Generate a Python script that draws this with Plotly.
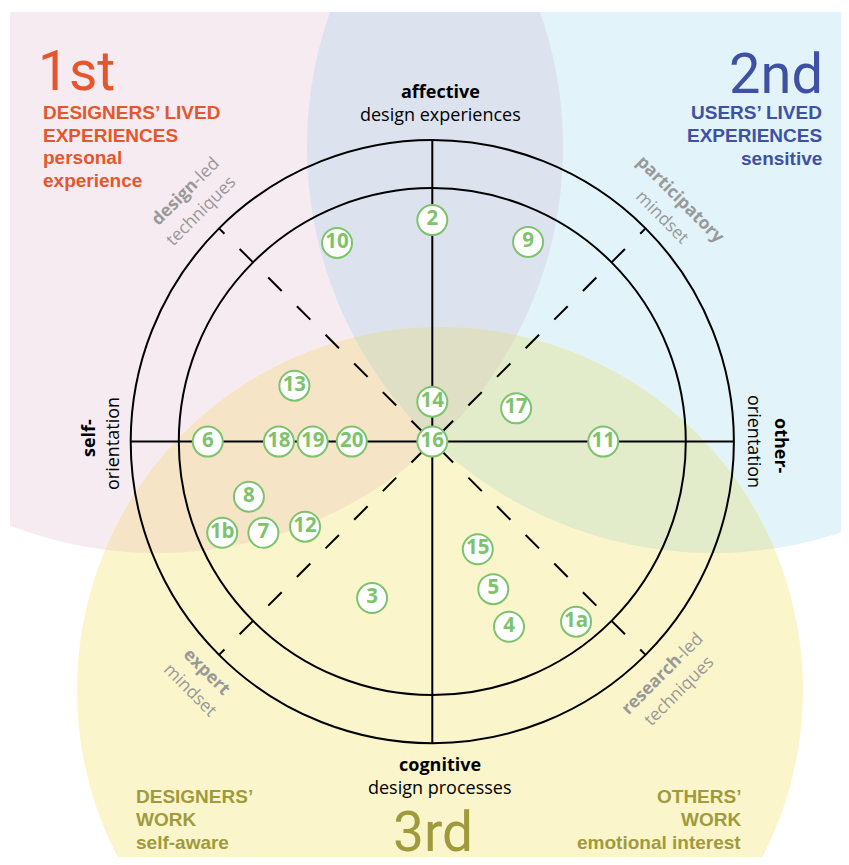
import numpy as np
import plotly.graph_objects as go

# ---------------- data ----------------
node_labels = ["1a", "1b", "2", "3", "4", "5", "6", "7", "8", "9", "10",
               "11", "12", "13", "14", "15", "16", "17", "18", "19", "20"]
# x: self-orientation (-) .. other-orientation (+); y: cognitive (-) .. affective (+)
node_x = [56.6, -82.7, 0.0, -23.7, 30.2, 24.0, -88.4, -66.5, -72.2, 37.7, -37.5,
          67.3, -50.1, -54.3, 0.0, 17.9, 0.0, 33.0, -60.4, -47.1, -31.7]
node_y = [-70.9, -35.9, 87.2, -61.6, -72.9, -58.1, 0.0, -35.9, -21.7, 78.6, 78.2,
          0.0, -33.5, 22.0, 15.7, -42.4, 0.0, 13.1, 0.0, 0.0, 0.0]

# ---------------- geometry helpers ----------------
S = 2.54            # px per unit
CX, CY = 432.3, 441.6   # page pixel position of the origin
OFF = 8             # body margin of the html page
FW, FH = 849 - 2 * OFF, 865 - 2 * OFF


def D(px, py):
    return (px - CX) / S, (CY - py) / S


R_OUT = 301.6 / S
R_IN = 253.5 / S

GREEN = "#7DC36B"
ORANGE = "#E4572C"
BLUE_T = "#3F51A3"
OLIVE = "#9F9B3D"
GRAY = "#999999"


def circle_poly(cx, cy, r, n=480):
    t = np.linspace(0, 2 * np.pi, n, endpoint=False)
    return list(zip(cx + r * np.cos(t), cy + r * np.sin(t)))


def inside(p, a, b):
    return (b[0] - a[0]) * (p[1] - a[1]) - (b[1] - a[1]) * (p[0] - a[0]) >= 0


def inter(s, e, a, b):
    x1, y1 = s; x2, y2 = e; x3, y3 = a; x4, y4 = b
    den = (x1 - x2) * (y3 - y4) - (y1 - y2) * (x3 - x4)
    t = ((x1 - x3) * (y3 - y4) - (y1 - y3) * (x3 - x4)) / den
    return (x1 + t * (x2 - x1), y1 + t * (y2 - y1))


def clip(subject, clipper):
    out = list(subject)
    for i in range(len(clipper)):
        a, b = clipper[i - 1], clipper[i]
        inp, out = out, []
        if not inp:
            break
        s = inp[-1]
        for e in inp:
            if inside(e, a, b):
                if not inside(s, a, b):
                    out.append(inter(s, e, a, b))
                out.append(e)
            elif inside(s, a, b):
                out.append(inter(s, e, a, b))
            s = e
    return out


def path(poly):
    return "M " + " L ".join(f"{x:.3f},{y:.3f}" for x, y in poly) + " Z"


# background circles (px centre, px radius)
pink_c = circle_poly(*D(157, 147), 406 / S)
blue_c = circle_poly(*D(713, 147), 406 / S)
yell_c = circle_poly(*D(440, 690), 363 / S)
x0b, y1b = D(10, 12)
box = [(x0b, -300), (300, -300), (300, y1b), (x0b, y1b)]

P = clip(pink_c, box)
B = clip(blue_c, box)
Y = clip(yell_c, box)
PB = clip(P, blue_c)
PY = clip(P, yell_c)
BY = clip(B, yell_c)
PBY = clip(PB, yell_c)

regions = [(P, "#F7EBF2"), (B, "#E2F3F9"), (Y, "#FBF5CC"),
           (PB, "#DCE3EE"), (PY, "#F5E5C6"), (BY, "#E3ECCA"), (PBY, "#DEDFC4")]

fig = go.Figure()
shapes = []
for poly, col in regions:
    shapes.append(dict(type="path", path=path(poly), xref="x", yref="y",
                       fillcolor=col, line=dict(width=0), layer="below"))

for r in (R_OUT, R_IN):
    shapes.append(dict(type="circle", xref="x", yref="y", x0=-r, y0=-r, x1=r, y1=r,
                       line=dict(color="black", width=2), layer="below"))

shapes.append(dict(type="line", xref="x", yref="y", x0=-R_OUT, y0=0, x1=R_OUT, y1=0,
                   line=dict(color="black", width=2), layer="below"))
shapes.append(dict(type="line", xref="x", yref="y", x0=0, y0=-R_OUT, x1=0, y1=R_OUT,
                   line=dict(color="black", width=2), layer="below"))
for ang in (45, 135, 225, 315):
    a = np.deg2rad(ang)
    r0 = 10.5 / S
    shapes.append(dict(type="line", xref="x", yref="y",
                       x0=r0 * np.cos(a), y0=r0 * np.sin(a),
                       x1=R_OUT * np.cos(a), y1=R_OUT * np.sin(a),
                       line=dict(color="black", width=2, dash="19px,21.5px"),
                       layer="below"))

fig.add_trace(go.Scatter(
    x=node_x, y=node_y, mode="markers+text",
    text=[f"<b>{t}</b>" for t in node_labels],
    textposition="middle center",
    marker=dict(size=30, color="white", line=dict(color=GREEN, width=2)),
    textfont=dict(family="Open Sans", size=20.5, color=GREEN),
    hoverinfo="skip", cliponaxis=False, showlegend=False))

K = {"Liberation Sans": 0.347, "Open Sans": 0.388, "Roboto": 0.342}
anns = []


def ann(text, px, py, size, color, family, angle=0, xa="center", baseline=True):
    if baseline:
        py = py - K[family] * size
    x, y = D(px, py)
    anns.append(dict(x=x, y=y, xref="x", yref="y", text=text, showarrow=False,
                     textangle=angle, xanchor=xa, yanchor="middle",
                     font=dict(size=size, color=color, family=family)))


AR = "Liberation Sans"
OS = "Open Sans"
# 1st
ann("1st", 36, 90, 55, ORANGE, "Roboto", xa="left")
ann("<b>DESIGNERS’ LIVED</b>", 41, 119, 19, ORANGE, AR, xa="left")
ann("<b>EXPERIENCES</b>", 41, 141.7, 19, ORANGE, AR, xa="left")
ann("<b>personal</b>", 41, 164, 19, ORANGE, AR, xa="left")
ann("<b>experience</b>", 41, 187.3, 19, ORANGE, AR, xa="left")
# 2nd
ann("2nd", 825, 93, 56, BLUE_T, "Roboto", xa="right")
ann("<b>USERS’ LIVED</b>", 824, 119, 19, BLUE_T, AR, xa="right")
ann("<b>EXPERIENCES</b>", 824, 141.7, 19, BLUE_T, AR, xa="right")
ann("<b>sensitive</b>", 824, 165.5, 19, BLUE_T, AR, xa="right")
# 3rd
ann("<b>DESIGNERS’</b>", 134, 802.7, 19, OLIVE, AR, xa="left")
ann("<b>WORK</b>", 134, 826, 19, OLIVE, AR, xa="left")
ann("<b>self-aware</b>", 134, 849.3, 19, OLIVE, AR, xa="left")
ann("<b>OTHERS’</b>", 743, 802.7, 19, OLIVE, AR, xa="right")
ann("<b>WORK</b>", 743, 826, 19, OLIVE, AR, xa="right")
ann("<b>emotional interest</b>", 743, 849.3, 19, OLIVE, AR, xa="right")
ann("3rd", 433, 851, 55, OLIVE, "Roboto")
# axis labels
ann("<b>affective</b>", 440, 98, 18, "black", OS)
ann("design experiences", 440, 121, 18, "black", OS)
ann("<b>cognitive</b>", 440, 771, 18, "black", OS)
ann("design processes", 440, 794, 18, "black", OS)
ann("<b>self-</b>", 88, 438, 18, "black", OS, angle=-90, baseline=False)
ann("orientation", 112, 444, 18, "black", OS, angle=-90, baseline=False)
ann("<b>other-</b>", 782, 446, 18, "black", OS, angle=90, baseline=False)
ann("orientation", 755, 441, 18, "black", OS, angle=90, baseline=False)
# diagonal labels
ann("<b>design</b>-led", 184, 191, 17.5, GRAY, OS, angle=-45, baseline=False)
ann("techniques", 200, 210, 17.5, GRAY, OS, angle=-45, baseline=False)
ann("<b>participatory</b>", 681, 198, 17.5, GRAY, OS, angle=45, baseline=False)
ann("mindset", 663, 216, 17.5, GRAY, OS, angle=45, baseline=False)
ann("<b>expert</b>", 208, 671, 17.5, GRAY, OS, angle=45, baseline=False)
ann("mindset", 191, 689, 17.5, GRAY, OS, angle=45, baseline=False)
ann("<b>research</b>-led", 661, 673, 17.5, GRAY, OS, angle=-45, baseline=False)
ann("techniques", 678, 690, 17.5, GRAY, OS, angle=-45, baseline=False)

xr = [D(OFF, 0)[0], D(OFF + FW, 0)[0]]
yr = [D(0, OFF + FH)[1], D(0, OFF)[1]]
fig.update_layout(
    width=FW, height=FH, margin=dict(l=0, r=0, t=0, b=0),
    paper_bgcolor="white", plot_bgcolor="white",
    shapes=shapes, annotations=anns, showlegend=False,
    xaxis=dict(range=xr, visible=False, fixedrange=True),
    yaxis=dict(range=yr, visible=False, fixedrange=True),
    hovermode=False,
)
fig.write_html("out.html")
